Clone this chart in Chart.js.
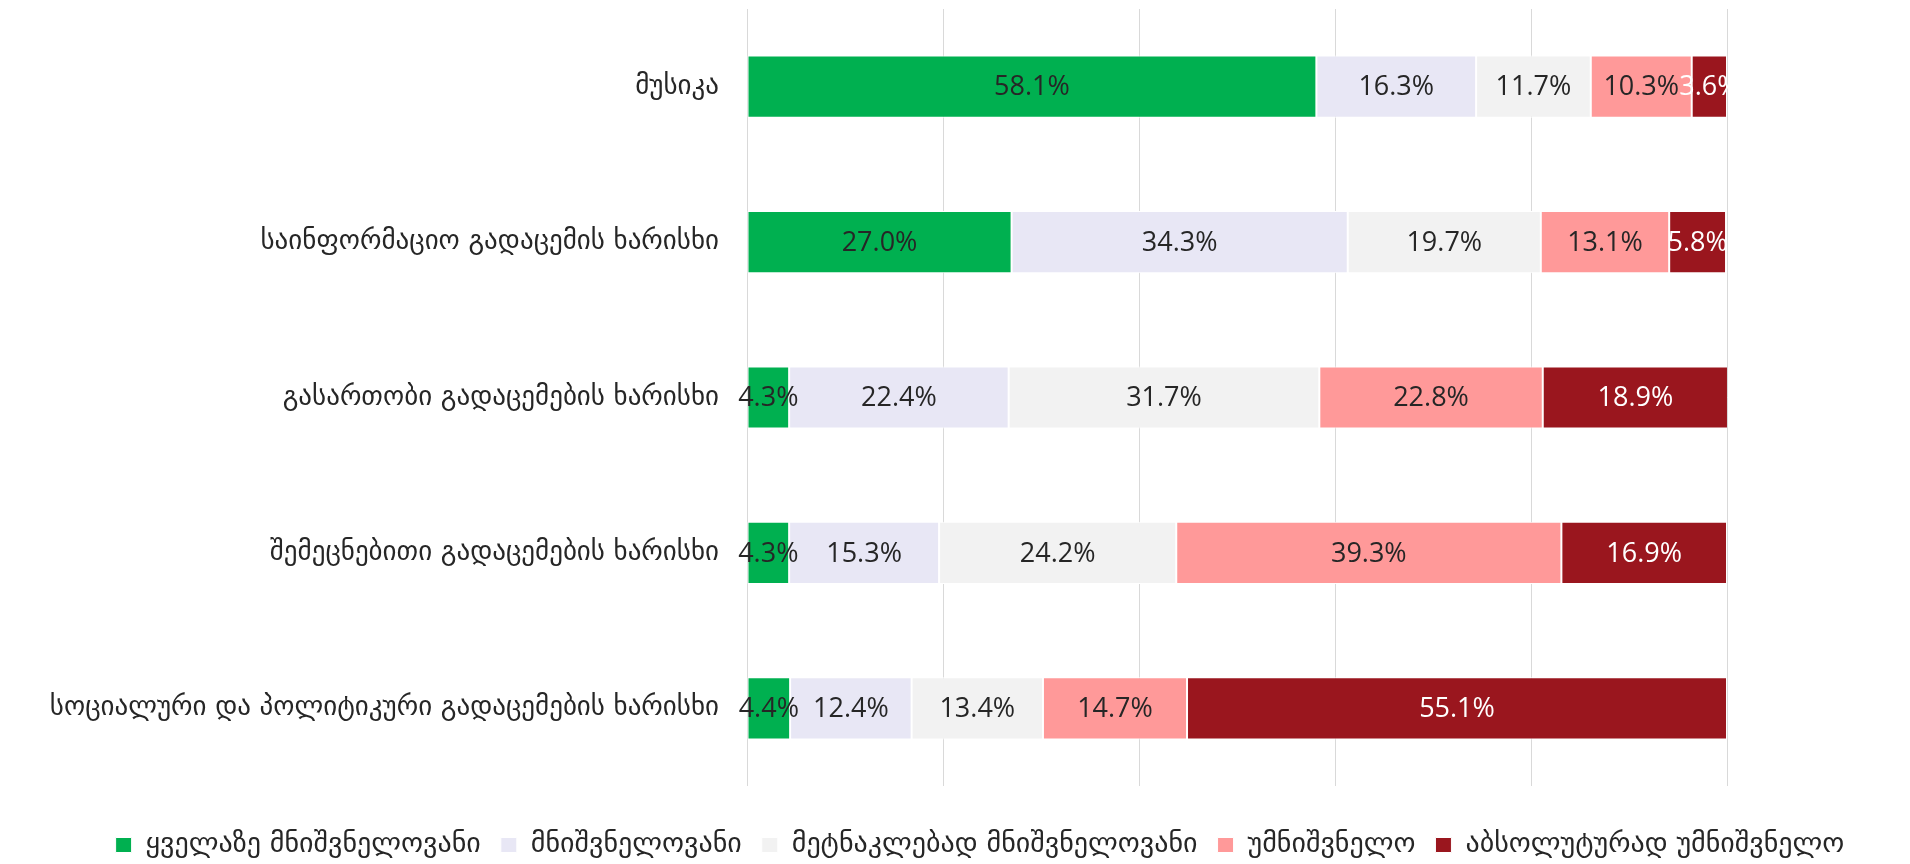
<!DOCTYPE html>
<html>
<head>
<meta charset="utf-8">
<script src="https://cdn.jsdelivr.net/npm/chart.js@4"></script>
<style>
  html, body { margin: 0; padding: 0; background: #fff; }
  #wrap { width: 1910px; height: 864px; }
</style>
</head>
<body>
<div id="wrap"><canvas id="ratingChart"></canvas></div>
<script>
const categories = [
    'მუსიკა',
    'საინფორმაციო გადაცემის ხარისხი',
    'გასართობი გადაცემების ხარისხი',
    'შემეცნებითი გადაცემების ხარისხი',
    'სოციალური და პოლიტიკური გადაცემების ხარისხი'
];
const seriesNames = [
    'ყველაზე მნიშვნელოვანი',
    'მნიშვნელოვანი',
    'მეტნაკლებად მნიშვნელოვანი',
    'უმნიშვნელო',
    'აბსოლუტურად უმნიშვნელო'
];
const mostImportant = [58.1, 27.0, 4.3, 4.3, 4.4];
const important = [16.3, 34.3, 22.4, 15.3, 12.4];
const moreOrLess = [11.7, 19.7, 31.7, 24.2, 13.4];
const unimportant = [10.3, 13.1, 22.8, 39.3, 14.7];
const absolutelyUnimportant = [3.6, 5.8, 18.9, 16.9, 55.1];

const colors = ['#00B050', '#E8E7F5', '#F2F2F2', '#FF9999', '#9A161E'];
const labelColors = ['#262626', '#262626', '#262626', '#262626', '#FFFFFF'];

const RC = document.getElementById('ratingChart').getContext('2d');

// percent labels in the middle of each segment
const barLabels = {
    id: 'barLabels',
    afterDatasetsDraw(chart) {
        const ctx = chart.ctx;
        ctx.save();
        ctx.font = '27px "Open Sans"';
        ctx.textAlign = 'center';
        ctx.textBaseline = 'middle';
        chart.data.datasets.forEach((ds, i) => {
            chart.getDatasetMeta(i).data.forEach((bar, j) => {
                ctx.fillStyle = labelColors[i];
                ctx.fillText(ds.data[j].toFixed(1) + '%', (bar.x + bar.base) / 2, bar.y + 1);
            });
        });
        ctx.restore();
    }
};

Chart.defaults.font.family = '"DejaVu Sans", sans-serif';
Chart.defaults.color = '#262626';

const seriesData = [mostImportant, important, moreOrLess, unimportant, absolutelyUnimportant];

new Chart(RC, {
    type: 'bar',
    data: {
        labels: categories,
        datasets: seriesNames.map((name, i) => ({
            label: name,
            data: seriesData[i],
            backgroundColor: colors[i],
            borderColor: '#FFFFFF',
            borderWidth: 1,
            borderSkipped: false,
            categoryPercentage: 1,
            barPercentage: 0.4
        }))
    },
    options: {
        indexAxis: 'y',
        responsive: true,
        maintainAspectRatio: false,
        animation: false,
        layout: {
            padding: { top: 9, right: 0, bottom: -5, left: 50 }
        },
        scales: {
            x: {
                stacked: true,
                min: 0,
                max: 100,
                ticks: { display: false, stepSize: 20 },
                grid: { color: '#D9D9D9', drawTicks: false },
                border: { display: false },
                afterFit(s) { s.height = 25; }
            },
            y: {
                stacked: true,
                ticks: { padding: 28, font: { size: 27 }, color: '#262626' },
                grid: { display: false, drawTicks: false },
                border: { display: false },
                afterFit(s) {
                    s.width = 697;
                    s.paddingTop = 0;
                    s.paddingBottom = 0;
                }
            },
            // empty axis that keeps the white margin right of the bars
            yRight: {
                type: 'category',
                position: 'right',
                display: true,
                ticks: { display: false },
                grid: { display: false, drawTicks: false },
                border: { display: false },
                afterFit(s) {
                    s.width = 183;
                    s.paddingTop = 0;
                    s.paddingBottom = 0;
                }
            }
        },
        plugins: {
            legend: {
                display: true,
                position: 'bottom',
                labels: {
                    boxWidth: 16,
                    boxHeight: 15,
                    padding: 20,
                    color: '#262626',
                    font: { size: 28 }
                }
            },
            tooltip: { enabled: false }
        }
    },
    plugins: [barLabels]
});
</script>
</body>
</html>
